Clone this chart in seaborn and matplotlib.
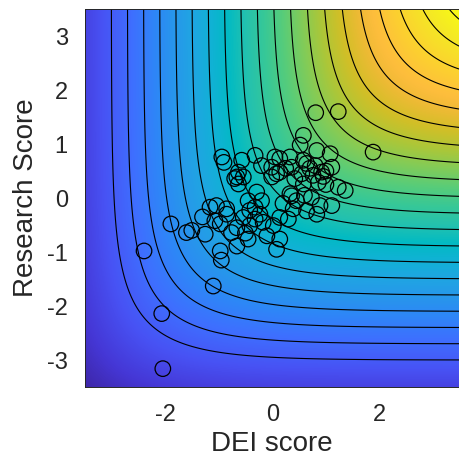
import numpy as np
import matplotlib
matplotlib.use("Agg")
import matplotlib.pyplot as plt
from matplotlib.colors import LinearSegmentedColormap
import seaborn as sns

# circle positions
dei = [-2.04, -2.06, -1.10, -2.39, -1.89, -1.60, -1.50, -1.25, -1.16, -1.04,
       -0.85, -1.07, -0.97, -0.76, -0.66, -0.54, -0.42, -0.32, -0.23, -0.32,
       -0.17, -0.42, -0.66, -0.97, -0.45, 0.14, 0.08, 0.02, 0.14, 0.30,
       -0.45, -0.29, -0.63, -0.66, -0.70, -0.54, -0.63, -0.94, -0.90, -0.57,
       -0.32, 0.05, 0.14, -0.01, 0.14, 0.33, -0.01, 0.08, 0.33, 0.58,
       0.52, 0.81, 1.23, 1.88, 0.83, 1.08, 1.11, 0.64, 0.36, 0.80,
       0.92, 0.76, 0.42, 0.58, 0.86, 0.36, 0.45, 0.73, 0.89, 1.11,
       0.64, 0.83, 0.39, 1.23, 1.36, 0.58, 0.70, 0.95, 1.00, 0.55,
       -0.20, -0.85, -1.30, 0.20, -0.10, -0.50, 0.60, 1.00, 0.25, -0.20,
       -0.95]
research = [-3.16, -2.14, -1.63, -0.98, -0.48, -0.64, -0.60, -0.67, -0.17, -0.14,
            -0.20, -0.42, -0.48, -0.64, -0.55, -0.36, -0.23, -0.17, -0.30, -0.39,
            -0.45, -0.51, -0.89, -0.98, -0.76, -0.76, -0.95, -0.51, -0.36, -0.39,
            -0.05, 0.11, 0.26, 0.39, 0.36, 0.39, 0.48, 0.76, 0.66, 0.70,
            0.79, 0.76, 0.73, 0.57, 0.48, 0.76, 0.39, 0.45, 0.08, 1.16,
            0.98, 1.58, 1.60, 0.85, 0.88, 0.82, 0.57, 0.64, 0.57, 0.60,
            0.48, 0.42, 0.36, 0.26, 0.29, 0.04, -0.05, 0.01, -0.14, -0.14,
            -0.24, -0.30, -0.20, 0.20, 0.14, 0.70, 0.55, 0.40, 0.25, 0.45,
            -0.05, -0.30, -0.35, -0.10, -0.70, -0.65, 0.05, 0.50, 0.55, 0.60,
            -1.15]

xticks = [-2, 0, 2]
yticks = [-3, -2, -1, 0, 1, 2, 3]
levels = np.arange(-3.0, 2.75, 0.3)

parula = LinearSegmentedColormap.from_list("parula", [
    (0 / 63, (0.2422, 0.1504, 0.6603)), (4 / 63, (0.2706, 0.2147, 0.8364)),
    (9 / 63, (0.2810, 0.3228, 0.9579)), (14 / 63, (0.2440, 0.4358, 0.9988)),
    (18 / 63, (0.1786, 0.5289, 0.9682)), (21 / 63, (0.1540, 0.5902, 0.9218)),
    (24 / 63, (0.1248, 0.6459, 0.8883)), (27 / 63, (0.0689, 0.6948, 0.8394)),
    (30 / 63, (0.0067, 0.7312, 0.7660)), (33 / 63, (0.1408, 0.7584, 0.6842)),
    (36 / 63, (0.2161, 0.7843, 0.5923)), (39 / 63, (0.3406, 0.8008, 0.4789)),
    (42 / 63, (0.5044, 0.7993, 0.3480)), (45 / 63, (0.6720, 0.7793, 0.2227)),
    (48 / 63, (0.8203, 0.7498, 0.1535)), (51 / 63, (0.9393, 0.7288, 0.2100)),
    (53 / 63, (0.9956, 0.7434, 0.2371)), (56 / 63, (0.9892, 0.8136, 0.1885)),
    (60 / 63, (0.9597, 0.9135, 0.1423)), (63 / 63, (0.9769, 0.9839, 0.0805))])

sns.set_style("white")
plt.rcParams["font.family"] = ["Liberation Sans", "DejaVu Sans"]
plt.rcParams["axes.unicode_minus"] = False

fig = plt.figure(figsize=(4.59, 4.65), dpi=100)
ax = fig.add_axes([0.1841, 0.1677, 0.8181, 0.8129])

# smooth-min surface behind the points
g = np.linspace(-3.5, 3.5, 401)
X, Y = np.meshgrid(g, g)
F = -np.log(np.exp(-X) + np.exp(-Y))
ax.imshow(F, extent=[-3.5, 3.5, -3.5, 3.5], origin="lower", cmap=parula,
          aspect="auto", interpolation="bilinear")
ax.contour(X, Y, F, levels=levels, colors="k", linewidths=0.8,
           linestyles="solid")

sns.scatterplot(x=dei, y=research, ax=ax, marker="o", s=125, legend=False)
pts = ax.collections[-1]
pts.set_facecolor("none")
pts.set_edgecolor("black")
pts.set_linewidth(0.9)

ax.set_xlim(-3.5, 3.5)
ax.set_ylim(-3.5, 3.5)
ax.set_xticks(xticks)
ax.set_yticks(yticks)
ax.tick_params(direction="in", length=4, width=0.6, color="#262626",
               labelsize=17, labelcolor="#262626", pad=12)
for sp in ax.spines.values():
    sp.set_color("#262626")
    sp.set_linewidth(0.7)
ax.set_xlabel("DEI score", fontsize=20, color="#262626", labelpad=4)
ax.set_ylabel("Research Score", fontsize=20, color="#262626", labelpad=6)

fig.savefig("out.png", dpi=100)
